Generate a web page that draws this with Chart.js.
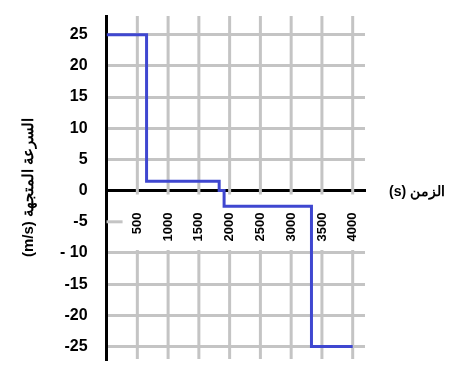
<!DOCTYPE html>
<html>
<head>
<meta charset="utf-8">
<script src="https://cdn.jsdelivr.net/npm/chart.js@4"></script>
<style>
  body { margin: 0; background: #fff; }
  #wrap { width: 461px; height: 380px; }
</style>
</head>
<body>
<div id="wrap"><canvas id="speed-chart"></canvas></div>
<script>
// time (s) and velocity (m/s) at each change of the step graph
const times = [0, 650, 1830, 1910, 3330, 4000];
const speeds = [25, 1.5, 0, -2.5, -25, -25];

const xTicks = [500, 1000, 1500, 2000, 2500, 3000, 3500, 4000];
const yTicks = [25, 20, 15, 10, 5, 0, -5, -10, -15, -20, -25];
const yLabels = ["25", "20", "15", "10", "5", "0", "-5", "- 10", "-15", "-20", "-25"];

const xTitle = "(s) الزمن";
const yTitle = "(m/s) السرعة المتجهة";

const gridColor = "#c4c4c4";

// vertical grid lines are cut where the x tick labels sit, plus the x axis title
const drawExtras = {
    id: "drawExtras",
    beforeDatasetsDraw(chart) {
        const ctx = chart.ctx;
        const x = chart.scales.x;
        const y = chart.scales.y;
        const area = chart.chartArea;
        ctx.save();
        ctx.strokeStyle = gridColor;
        ctx.lineWidth = 3;
        xTicks.forEach(function(v) {
            const px = x.getPixelForValue(v);
            ctx.beginPath();
            ctx.moveTo(px, area.top);
            ctx.lineTo(px, y.getPixelForValue(0) + 4);
            ctx.moveTo(px, y.getPixelForValue(-10) - 3);
            ctx.lineTo(px, area.bottom);
            ctx.stroke();
        });
        // short stub of the -5 line
        const p5 = y.getPixelForValue(-5);
        ctx.beginPath();
        ctx.moveTo(area.left, p5);
        ctx.lineTo(area.left + 16, p5);
        ctx.stroke();
        ctx.restore();
    },
    afterDraw(chart) {
        const ctx = chart.ctx;
        const y = chart.scales.y;
        ctx.save();
        ctx.fillStyle = "#000";
        ctx.font = "bold 14px 'Liberation Sans', Arial, sans-serif";
        ctx.textAlign = "left";
        ctx.textBaseline = "middle";
        ctx.fillText(xTitle, chart.chartArea.right + 24, y.getPixelForValue(0) + 2);
        ctx.restore();
    }
};

new Chart(document.getElementById("speed-chart"), {
    type: "line",
    data: {
        datasets: [{
            data: times.map(function(t, i) { return { x: t, y: speeds[i] }; }),
            stepped: "before",
            borderColor: "#3f47d0",
            borderWidth: 3,
            pointRadius: 0,
            fill: false
        }]
    },
    options: {
        responsive: true,
        maintainAspectRatio: false,
        animation: false,
        layout: { padding: { left: 16, top: 16, right: 96, bottom: 21 } },
        plugins: {
            legend: { display: false },
            tooltip: { enabled: false }
        },
        scales: {
            x: {
                type: "linear",
                position: { y: 0 },
                min: 0,
                max: 4200,
                afterBuildTicks: function(scale) {
                    scale.ticks = xTicks.map(function(v) { return { value: v }; });
                },
                grid: { display: false },
                border: { display: true, color: "#000", width: 3 },
                ticks: {
                    autoSkip: false,
                    minRotation: 90,
                    maxRotation: 90,
                    padding: 14,
                    color: "#000",
                    font: { family: "'Liberation Sans', Arial, sans-serif", size: 13, weight: "bold" },
                    callback: function(value) { return String(value); }
                }
            },
            y: {
                type: "linear",
                position: "left",
                min: -27,
                max: 28,
                afterBuildTicks: function(scale) {
                    scale.ticks = yTicks.map(function(v) { return { value: v }; });
                },
                grid: {
                    color: function(c) { return c.tick && c.tick.value === -5 ? "rgba(0,0,0,0)" : gridColor; },
                    lineWidth: 3,
                    drawTicks: true,
                    tickLength: 16,
                    tickColor: "rgba(0,0,0,0)"
                },
                border: { display: true, color: "#000", width: 3 },
                ticks: {
                    padding: 3,
                    color: "#000",
                    font: { family: "'Liberation Sans', Arial, sans-serif", size: 16, weight: "bold" },
                    callback: function(value) {
                        const i = yTicks.indexOf(value);
                        return i >= 0 ? yLabels[i] : "";
                    }
                },
                title: {
                    display: true,
                    text: yTitle,
                    color: "#000",
                    padding: { top: 4, bottom: 19 },
                    font: { family: "'Liberation Sans', Arial, sans-serif", size: 15, weight: "bold" }
                }
            }
        }
    },
    plugins: [drawExtras]
});
</script>
</body>
</html>
